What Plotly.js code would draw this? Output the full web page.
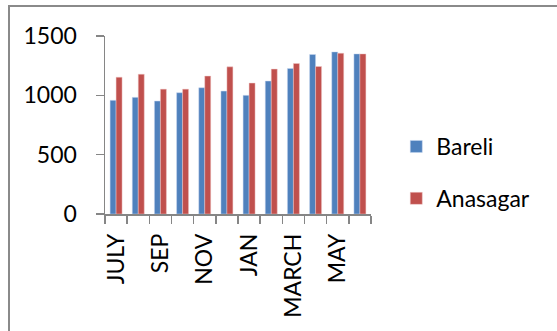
<!DOCTYPE html>
<html>
<head>
<meta charset="utf-8">
<script src="https://cdn.plot.ly/plotly-3.0.1.min.js"></script>
<style>
  html, body { margin: 0; padding: 0; background: #fff; }
  #wrap { position: relative; width: 557px; height: 331px; overflow: hidden; }
  #chart { position: absolute; left: 0; top: 0; width: 557px; height: 331px; }
  #frame {
    position: absolute; left: 8px; top: 5px; width: 600px; height: 400px;
    border: 2px solid #8a8a8a; pointer-events: none; box-sizing: border-box;
  }
</style>
</head>
<body>
<div id="wrap">
  <div id="chart"></div>
  <div id="frame"></div>
</div>
<script>
// Monthly values, July through June
const months = ['JULY', 'AUG', 'SEP', 'OCT', 'NOV', 'DEC', 'JAN', 'FEB', 'MARCH', 'APR', 'MAY', 'JUNE'];
const tickLabels = ['JULY', '', 'SEP', '', 'NOV', '', 'JAN', '', 'MARCH', '', 'MAY', ''];
const bareli   = [958, 983, 952, 1022, 1064, 1036, 1000, 1120, 1226, 1344, 1366, 1349];
const anasagar = [1153, 1178, 1052, 1052, 1162, 1240, 1103, 1221, 1268, 1243, 1355, 1349];

const FONT = 'Lato, Liberation Sans, Arial, sans-serif';
const AXIS = '#868686';

const traces = [
  {
    type: 'bar', name: 'Bareli', x: months, y: bareli, legendgroup: 'a',
    marker: { color: '#4F81BD', line: { color: 'rgba(200,215,240,0.8)', width: 0.6 } }
  },
  {
    type: 'bar', name: 'Anasagar', x: months, y: anasagar, legendgroup: 'b',
    marker: { color: '#C0504D', line: { color: 'rgba(240,200,200,0.8)', width: 0.6 } }
  }
];

const layout = {
  width: 557, height: 331,
  margin: { l: 105, r: 186, t: 36, b: 117 },
  paper_bgcolor: 'rgba(0,0,0,0)',
  plot_bgcolor: 'rgba(0,0,0,0)',
  font: { family: FONT, size: 23, color: '#000' },
  barmode: 'group',
  bargap: 0.46,
  bargroupgap: 0,
  showlegend: true,
  legend: {
    x: 1.095, xanchor: 'left', y: 0.5, yanchor: 'top',
    font: { family: FONT, size: 23, color: '#000' },
    traceorder: 'grouped', tracegroupgap: 19,
    bgcolor: 'rgba(0,0,0,0)'
  },
  xaxis: {
    type: 'category',
    tickmode: 'array', tickvals: months, ticktext: tickLabels,
    tickangle: -90, tickson: 'boundaries',
    ticks: 'outside', ticklen: 8, tickwidth: 1.5, tickcolor: AXIS,
    showline: true, linecolor: AXIS, linewidth: 1.5,
    showgrid: false, zeroline: false,
    tickfont: { family: FONT, size: 23, color: '#000' },
    ticklabelstandoff: 9,
    fixedrange: true
  },
  yaxis: {
    range: [0, 1500], tickvals: [0, 500, 1000, 1500],
    ticks: 'outside', ticklen: 8, tickwidth: 1.5, tickcolor: AXIS,
    showline: true, linecolor: AXIS, linewidth: 1.5,
    showgrid: false, zeroline: false,
    tickfont: { family: FONT, size: 23, color: '#000' },
    ticklabelstandoff: 14,
    fixedrange: true
  }
};

Plotly.newPlot('chart', traces, layout, { staticPlot: true, displayModeBar: false });
</script>
</body>
</html>
